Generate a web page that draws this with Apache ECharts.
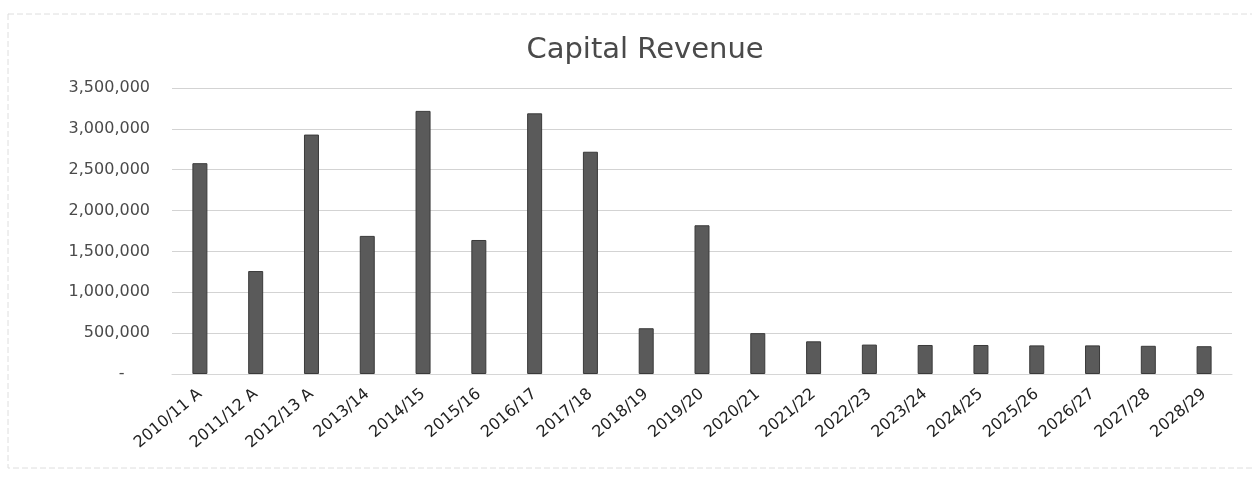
<!DOCTYPE html>
<html>
<head>
<meta charset="utf-8">
<title>Capital Revenue</title>
<script src="https://cdn.jsdelivr.net/npm/echarts@6/dist/echarts.min.js"></script>
<style>
  html, body { margin: 0; padding: 0; background: #ffffff; }
  #chart { width: 1252px; height: 482px; }
</style>
</head>
<body>
<div id="chart"></div>
<script>
// Financial years (A = actual)
const categories = [
  '2010/11 A', '2011/12 A', '2012/13 A', '2013/14', '2014/15', '2015/16',
  '2016/17', '2017/18', '2018/19', '2019/20', '2020/21', '2021/22',
  '2022/23', '2023/24', '2024/25', '2025/26', '2026/27', '2027/28', '2028/29'
];

// Capital revenue per year
const capitalRevenue = [
  2580000, 1260000, 2930000, 1690000, 3220000, 1640000,
  3190000, 2720000, 560000, 1820000, 500000, 400000,
  360000, 355000, 355000, 350000, 350000, 345000, 340000
];

// Value axis ticks
const yTicks = [0, 500000, 1000000, 1500000, 2000000, 2500000, 3000000, 3500000];

const chart = echarts.init(document.getElementById('chart'));

// Accounting style: zero shown as a dash set in from the right edge
const fmt = v => (v === 0 ? '-     ' : v.toLocaleString('en-US'));

chart.setOption({
  animation: false,
  backgroundColor: '#ffffff',
  title: {
    text: 'Capital Revenue',
    left: 640,
    top: 31,
    textAlign: 'center',
    textStyle: {
      fontFamily: 'DejaVu Sans',
      fontSize: 29,
      fontWeight: 'normal',
      color: '#4a4a4a'
    }
  },
  grid: {
    left: 172,
    right: 20,
    top: 88,
    bottom: 108,
    containLabel: false
  },
  xAxis: {
    type: 'category',
    data: categories,
    axisLine: { show: true, lineStyle: { color: '#d6d6d6', width: 1 } },
    axisTick: { show: false },
    axisLabel: {
      interval: 0,
      rotate: 40,
      margin: 18,
      fontFamily: 'DejaVu Sans',
      fontSize: 16,
      color: '#222222'
    }
  },
  yAxis: {
    type: 'value',
    min: yTicks[0],
    max: yTicks[yTicks.length - 1],
    interval: yTicks[1] - yTicks[0],
    axisLine: { show: false },
    axisTick: { show: false },
    splitLine: { show: true, lineStyle: { color: '#d3d3d3', width: 1 } },
    axisLabel: {
      margin: 22,
      fontFamily: 'DejaVu Sans',
      fontSize: 16,
      color: '#4a4a4a',
      formatter: fmt
    }
  },
  series: [{
    type: 'bar',
    data: capitalRevenue,
    barWidth: 15,
    itemStyle: {
      color: '#5a5a5a',
      borderColor: '#3a3a3a',
      borderWidth: 1
    }
  }],
  graphic: [{
    type: 'rect',
    silent: true,
    shape: { x: 8, y: 14, width: 1250, height: 454 },
    style: { fill: 'none', stroke: '#dedede', lineWidth: 1, lineDash: [6, 3] }
  }]
});
</script>
</body>
</html>
